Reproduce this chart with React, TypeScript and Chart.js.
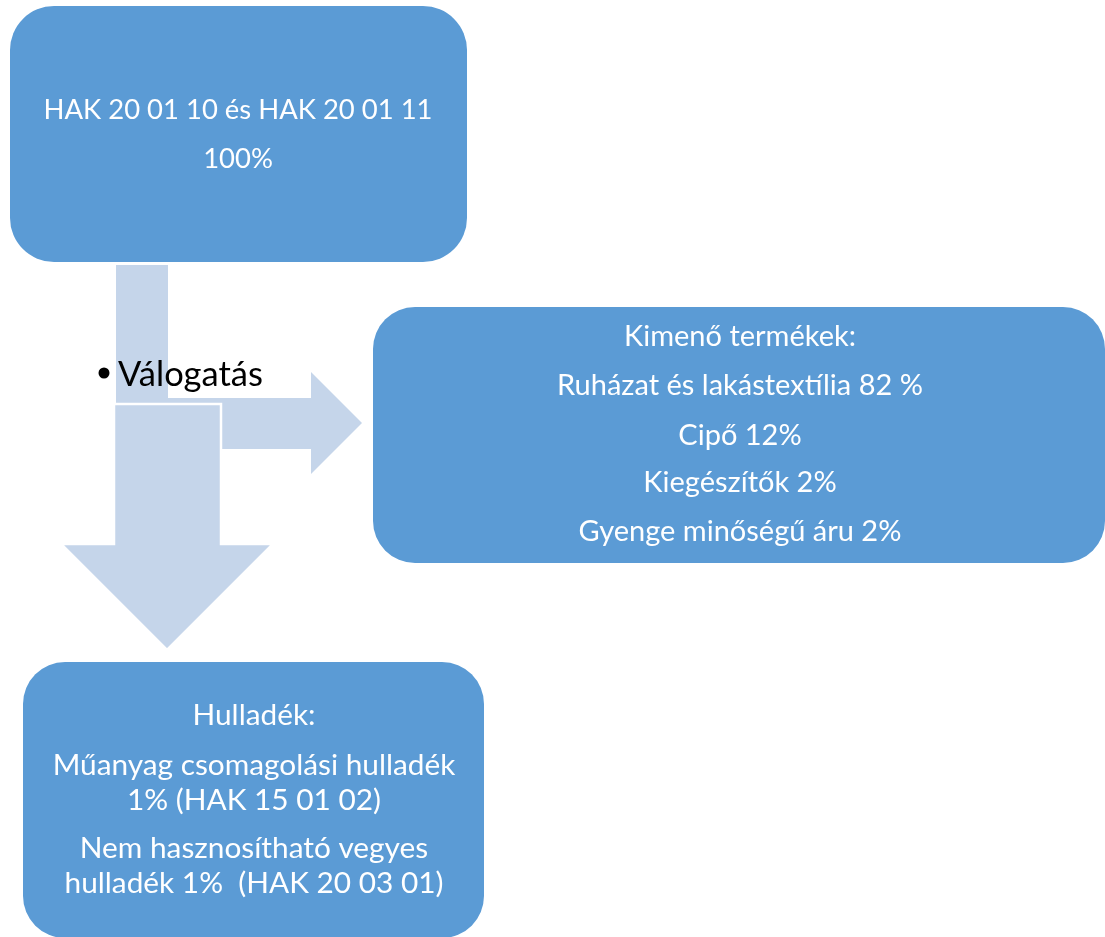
import React, { useEffect, useRef } from "react";
import { Chart, registerables } from "chart.js";

Chart.register(...registerables);

// ---- content (data) ----
const sourceLines = ["HAK 20 01 10 és HAK 20 01 11", "100%"];
const stepLabel = "Válogatás";
const productTitle = "Kimenő termékek:";
const productNames = ["Ruházat és lakástextília", "Cipő", "Kiegészítők", "Gyenge minőségű áru"];
const productShares = ["82 %", "12%", "2%", "2%"];
const wasteTitle = "Hulladék:";
const wasteLines = [
  "Műanyag csomagolási hulladék",
  "1% (HAK 15 01 02)",
  "Nem hasznosítható vegyes",
  "hulladék 1%  (HAK 20 03 01)",
];

// ---- layout (diagram units = scale values) ----
const W = 1105;
const H = 937;
const BOX_COLOR = "#5B9BD5";
const ARROW_COLOR = "#C5D5EA";
const FONT = "Lato, 'Open Sans', sans-serif";

type Box = {
  x0: number; y0: number; x1: number; y1: number; r: number; cx: number;
  fitLine: number; fitWidth: number; baselines: number[]; lines: string[];
};

const boxes: Box[] = [
  { x0: 10, y0: 6, x1: 467, y1: 262, r: 44, cx: 238, fitLine: 0, fitWidth: 389, baselines: [119, 168], lines: sourceLines },
  {
    x0: 373, y0: 307, x1: 1105, y1: 563, r: 42, cx: 740, fitLine: 1, fitWidth: 366,
    baselines: [346, 395, 445, 492, 541],
    lines: [productTitle, ...productNames.map((n, i) => `${n} ${productShares[i]}`)],
  },
  {
    x0: 23, y0: 662, x1: 484, y1: 938, r: 42, cx: 254, fitLine: 1, fitWidth: 403,
    baselines: [725, 775, 810, 858, 893], lines: [wasteTitle, ...wasteLines],
  },
];

const bentArrow: [number, number][] = [
  [116, 265], [168, 265], [168, 398], [311, 398], [311, 372], [362, 423], [311, 474], [311, 449], [116, 449],
];
const downArrow: [number, number][] = [
  [114, 404], [221, 404], [221, 544], [273, 544], [167, 650], [61, 544], [114, 544],
];

function fitSize(ctx: CanvasRenderingContext2D, text: string, width: number) {
  ctx.font = `100px ${FONT}`;
  const w = ctx.measureText(text).width;
  return (100 * width) / w;
}

const diagramPlugin = {
  id: "diagram",
  afterDraw(chart: any) {
    const { ctx } = chart;
    const xs = chart.scales.x;
    const ys = chart.scales.y;
    const px = (v: number) => xs.getPixelForValue(v);
    const py = (v: number) => ys.getPixelForValue(v);
    ctx.save();

    const poly = (pts: [number, number][], stroke: boolean) => {
      ctx.beginPath();
      pts.forEach(([a, b], i) => (i === 0 ? ctx.moveTo(px(a), py(b)) : ctx.lineTo(px(a), py(b))));
      ctx.closePath();
      ctx.fillStyle = ARROW_COLOR;
      ctx.fill();
      if (stroke) {
        ctx.strokeStyle = "#FFFFFF";
        ctx.lineWidth = 2.5;
        ctx.lineJoin = "miter";
        ctx.stroke();
      }
    };

    // boxes
    boxes.forEach((b) => {
      ctx.beginPath();
      ctx.roundRect(px(b.x0), py(b.y0), px(b.x1) - px(b.x0), py(b.y1) - py(b.y0), b.r);
      ctx.fillStyle = BOX_COLOR;
      ctx.fill();
      const size = fitSize(ctx, b.lines[b.fitLine], b.fitWidth);
      ctx.fillStyle = "#FFFFFF";
      ctx.font = `${size}px ${FONT}`;
      ctx.textAlign = "center";
      ctx.textBaseline = "alphabetic";
      b.lines.forEach((t, i) => ctx.fillText(t, px(b.cx), py(b.baselines[i])));
    });

    // arrows
    poly(bentArrow, false);
    poly(downArrow, true);

    // step label
    ctx.fillStyle = "#000000";
    ctx.beginPath();
    ctx.arc(px(104), py(373), 5.5, 0, Math.PI * 2);
    ctx.fill();
    const lsize = fitSize(ctx, stepLabel, 145);
    ctx.font = `${lsize}px ${FONT}`;
    ctx.textAlign = "left";
    ctx.textBaseline = "alphabetic";
    ctx.fillText(stepLabel, px(118), py(386));

    ctx.restore();
  },
};

export default function App() {
  const ref = useRef<HTMLCanvasElement | null>(null);
  useEffect(() => {
    document.body.style.margin = "0";
    const canvas = ref.current;
    if (!canvas) return;
    const chart = new Chart(canvas, {
      type: "scatter",
      data: { datasets: [{ data: [], pointRadius: 0 }] },
      options: {
        animation: false,
        responsive: false,
        devicePixelRatio: 1,
        layout: { padding: 0 },
        plugins: { legend: { display: false }, tooltip: { enabled: false } },
        scales: {
          x: { type: "linear", min: 0, max: W, display: false },
          y: { type: "linear", min: 0, max: H, reverse: true, display: false },
        },
      },
      plugins: [diagramPlugin],
    });
    return () => chart.destroy();
  }, []);
  return (
    <div style={{ position: "absolute", left: 0, top: 0, width: W, height: H, background: "#FFFFFF" }}>
      <canvas ref={ref} width={W} height={H} style={{ width: W, height: H, display: "block" }} />
    </div>
  );
}
